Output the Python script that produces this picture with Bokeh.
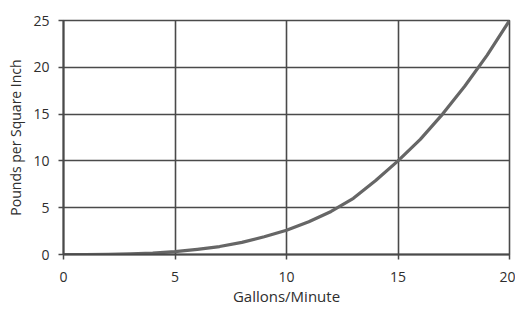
from bokeh.plotting import figure
from bokeh.models import Range1d, FixedTicker
from bokeh.embed import file_html
from bokeh.resources import INLINE

flow = [0, 1, 2, 3, 4, 5, 6, 7, 8, 9, 10, 11, 12, 13, 14, 15, 16, 17, 18, 19, 20]
psi = [0.0, 0.0, 0.02, 0.06, 0.15, 0.3, 0.55, 0.85, 1.3, 1.9, 2.6, 3.5, 4.6, 6.0, 7.9, 10.0, 12.3, 15.0, 18.0, 21.3, 25.0]
x_ticks = [0, 5, 10, 15, 20]
y_ticks = [0, 5, 10, 15, 20, 25]

p = figure(width=515, height=296, output_backend="svg", toolbar_location=None,
           x_range=Range1d(0, 20), y_range=Range1d(0, 25),
           frame_width=446, frame_height=234,
           min_border_left=63, min_border_top=20, min_border_right=6, min_border_bottom=10)

p.line(flow, psi, line_color="#666666", line_width=3.2, line_join="round")

grid_col = "#4a4a4a"
for ax in (p.xaxis[0], p.yaxis[0]):
    ax.axis_line_color = grid_col
    ax.axis_line_width = 2
    ax.major_tick_line_color = grid_col
    ax.major_tick_line_width = 1.5
    ax.major_tick_in = 0
    ax.major_tick_out = 5
    ax.minor_tick_line_color = None
    ax.major_label_text_font = "Open Sans"
    ax.major_label_text_font_size = "14px"
    ax.major_label_text_color = "#2e2e2e"
    ax.axis_label_text_font = "Open Sans"
    ax.axis_label_text_font_style = "normal"
    ax.axis_label_text_color = "#2e2e2e"

p.xaxis.axis_label_text_font_size = "15px"
p.yaxis.axis_label_text_font_size = "14px"
p.xaxis.ticker = FixedTicker(ticks=x_ticks)
p.yaxis.ticker = FixedTicker(ticks=y_ticks)
p.xaxis.axis_label = "Gallons/Minute"
p.yaxis.axis_label = "Pounds per Square Inch"
p.xaxis.major_label_standoff = 12
p.yaxis.major_label_standoff = 9
p.xaxis.axis_label_standoff = 1
p.yaxis.axis_label_standoff = 5

p.xgrid.grid_line_color = grid_col
p.ygrid.grid_line_color = grid_col
p.xgrid.grid_line_width = 1.6
p.ygrid.grid_line_width = 1.6
p.outline_line_color = grid_col
p.outline_line_width = 1.6
p.background_fill_color = "white"
p.border_fill_color = "white"

open("out.html", "w").write(file_html(p, INLINE))
